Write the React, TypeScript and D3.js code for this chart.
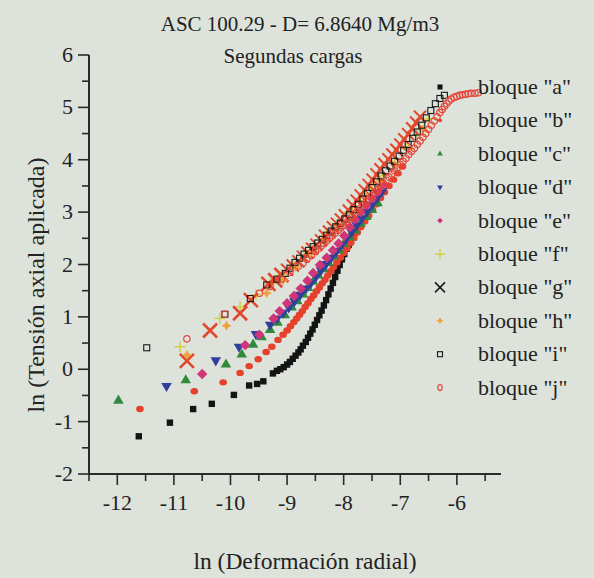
import React from "react";
import * as d3 from "d3";

const title1 = "ASC 100.29 - D= 6.8640 Mg/m3";
const title2 = "Segundas cargas";
const xLabel = "ln (Deformación radial)";
const yLabel = "ln (Tensión axial aplicada)";
const xTicks = [-12, -11, -10, -9, -8, -7, -6];
const yTicks = [-2, -1, 0, 1, 2, 3, 4, 5, 6];
const legendNames = ['bloque "a"', 'bloque "b"', 'bloque "c"', 'bloque "d"', 'bloque "e"', 'bloque "f"', 'bloque "g"', 'bloque "h"', 'bloque "i"', 'bloque "j"'];

const serieA: [number, number][] = [[-11.62,-1.28],[-11.07,-1.02],[-10.66,-0.76],[-10.33,-0.66],[-9.94,-0.49],[-9.67,-0.31],[-9.53,-0.28],[-9.42,-0.23],[-9.25,-0.08],[-9.18,-0.03],[-9.12,0.0],[-9.06,0.04],[-9.0,0.09],[-8.95,0.14],[-8.9,0.2],[-8.85,0.26],[-8.8,0.32],[-8.76,0.38],[-8.72,0.45],[-8.67,0.52],[-8.63,0.6],[-8.59,0.68],[-8.55,0.76],[-8.51,0.85],[-8.47,0.94],[-8.43,1.03],[-8.39,1.12],[-8.35,1.22],[-8.31,1.32],[-8.27,1.43],[-8.23,1.54],[-8.19,1.65],[-8.15,1.76],[-8.11,1.88],[-8.07,1.99],[-8.03,2.1],[-7.99,2.2],[-7.95,2.3],[-7.91,2.38],[-7.87,2.45],[-7.82,2.52]];
const serieB: [number, number][] = [[-11.6,-0.76],[-10.64,-0.42],[-10.13,-0.25],[-9.83,-0.07],[-9.67,0.06],[-9.51,0.19],[-9.37,0.33],[-9.27,0.43],[-9.16,0.56],[-9.07,0.66],[-9.0,0.74],[-8.94,0.82],[-8.88,0.9],[-8.83,0.97],[-8.78,1.04],[-8.73,1.11],[-8.68,1.19],[-8.63,1.26],[-8.58,1.34],[-8.53,1.41],[-8.48,1.49],[-8.43,1.56],[-8.38,1.64],[-8.33,1.71],[-8.28,1.79],[-8.23,1.87],[-8.18,1.95],[-8.12,2.04],[-8.06,2.13],[-8.0,2.22],[-7.94,2.31],[-7.88,2.41],[-7.82,2.51],[-7.76,2.61],[-7.7,2.71],[-7.63,2.82],[-7.56,2.93],[-7.49,3.04],[-7.42,3.15],[-7.35,3.27],[-7.28,3.38],[-7.2,3.5],[-7.12,3.62],[-7.04,3.74],[-6.96,3.87]];
const serieC: [number, number][] = [[-11.98,-0.6],[-10.79,-0.21],[-10.08,0.09],[-9.8,0.28],[-9.6,0.47],[-9.45,0.61],[-9.3,0.75],[-9.17,0.89],[-9.04,1.03],[-8.92,1.18],[-8.82,1.3],[-8.72,1.43],[-8.63,1.55],[-8.54,1.67],[-8.45,1.79],[-8.36,1.91],[-8.27,2.03],[-8.18,2.15],[-8.09,2.27],[-8.0,2.39],[-7.9,2.52],[-7.8,2.65],[-7.7,2.78],[-7.6,2.91],[-7.5,3.04],[-7.4,3.17]];
const serieD: [number, number][] = [[-11.13,-0.32],[-10.26,0.17],[-9.85,0.43],[-9.55,0.67],[-9.3,0.85],[-9.18,0.97],[-9.07,1.08],[-8.97,1.18],[-8.87,1.3],[-8.77,1.42],[-8.67,1.54],[-8.58,1.65],[-8.49,1.77],[-8.4,1.89],[-8.31,2.01],[-8.22,2.13],[-8.13,2.25],[-8.04,2.37],[-7.95,2.5],[-7.86,2.62],[-7.77,2.75],[-7.68,2.88],[-7.59,3.01],[-7.5,3.14],[-7.41,3.27],[-7.32,3.4]];
const serieE: [number, number][] = [[-10.5,-0.09],[-9.74,0.46],[-9.49,0.66],[-9.24,0.97],[-9.13,1.11],[-9.0,1.26],[-8.88,1.4],[-8.76,1.54],[-8.64,1.69],[-8.54,1.84],[-8.42,1.99],[-8.3,2.13],[-8.19,2.27],[-8.09,2.4],[-7.99,2.55],[-7.89,2.71],[-7.8,2.86],[-7.7,3.0],[-7.6,3.13],[-7.5,3.26],[-7.4,3.39],[-7.3,3.52]];
const serieF: [number, number][] = [[-10.89,0.43],[-10.19,0.97],[-9.83,1.19],[-9.55,1.42],[-9.3,1.63],[-9.1,1.8],[-8.9,1.98],[-8.7,2.17],[-8.5,2.36],[-8.3,2.56],[-8.1,2.77],[-7.9,2.99],[-7.7,3.22],[-7.5,3.45],[-7.3,3.7],[-7.1,3.95],[-6.9,4.21],[-6.7,4.48],[-6.5,4.78]];
const serieG: [number, number][] = [[-10.77,0.16],[-10.36,0.74],[-9.83,1.07],[-9.64,1.32],[-9.33,1.63],[-9.21,1.7],[-9.1,1.8],[-9.0,1.9],[-8.9,1.98],[-8.8,2.06],[-8.72,2.15],[-8.64,2.23],[-8.56,2.3],[-8.48,2.38],[-8.4,2.46],[-8.33,2.55],[-8.26,2.63],[-8.19,2.71],[-8.12,2.78],[-8.05,2.86],[-7.98,2.94],[-7.91,3.03],[-7.84,3.13],[-7.77,3.22],[-7.7,3.32],[-7.63,3.42],[-7.56,3.52],[-7.49,3.62],[-7.42,3.72],[-7.35,3.82],[-7.28,3.92],[-7.21,4.01],[-7.14,4.1],[-7.07,4.19],[-7.0,4.29],[-6.93,4.39],[-6.86,4.49],[-6.79,4.6],[-6.72,4.71],[-6.65,4.82]];
const serieH: [number, number][] = [[-10.77,0.27],[-10.07,0.83],[-9.36,1.45],[-9.07,1.7],[-8.85,1.95],[-8.6,2.2],[-8.35,2.45],[-8.1,2.72],[-7.85,3.0],[-7.6,3.3],[-7.35,3.6],[-7.1,3.9],[-6.85,4.22],[-6.6,4.58]];
const serieI: [number, number][] = [[-11.48,0.41],[-10.1,1.05],[-9.65,1.35],[-9.36,1.61],[-9.18,1.72],[-9.03,1.83],[-8.95,1.93],[-8.86,2.04],[-8.78,2.12],[-8.7,2.2],[-8.62,2.27],[-8.54,2.34],[-8.46,2.41],[-8.38,2.48],[-8.3,2.56],[-8.22,2.64],[-8.14,2.72],[-8.06,2.79],[-7.98,2.87],[-7.9,2.95],[-7.82,3.05],[-7.74,3.15],[-7.66,3.25],[-7.58,3.36],[-7.5,3.47],[-7.42,3.58],[-7.34,3.69],[-7.26,3.79],[-7.18,3.88],[-7.1,3.97],[-7.02,4.07],[-6.94,4.18],[-6.86,4.29],[-6.78,4.41],[-6.7,4.53],[-6.62,4.66],[-6.54,4.8],[-6.46,4.94],[-6.38,5.07],[-6.3,5.17],[-6.22,5.23]];
const serieJ: [number, number][] = [[-10.77,0.58],[-10.1,1.05],[-9.49,1.45],[-9.3,1.58],[-9.1,1.72],[-8.95,1.85],[-8.8,1.97],[-8.72,2.03],[-8.65,2.1],[-8.57,2.17],[-8.5,2.25],[-8.45,2.3],[-8.4,2.35],[-8.35,2.4],[-8.3,2.45],[-8.25,2.5],[-8.2,2.55],[-8.15,2.6],[-8.1,2.65],[-8.05,2.7],[-8.0,2.75],[-7.95,2.8],[-7.9,2.86],[-7.85,2.91],[-7.8,2.97],[-7.75,3.02],[-7.7,3.08],[-7.65,3.14],[-7.6,3.2],[-7.55,3.25],[-7.5,3.31],[-7.45,3.37],[-7.4,3.43],[-7.35,3.49],[-7.3,3.55],[-7.25,3.61],[-7.2,3.67],[-7.15,3.73],[-7.1,3.79],[-7.05,3.85],[-7.0,3.91],[-6.95,3.97],[-6.9,4.03],[-6.85,4.1],[-6.8,4.16],[-6.75,4.22],[-6.7,4.29],[-6.65,4.36],[-6.6,4.43],[-6.55,4.5],[-6.5,4.58],[-6.45,4.66],[-6.4,4.74],[-6.35,4.82],[-6.3,4.9],[-6.26,4.96],[-6.22,5.02],[-6.18,5.07],[-6.14,5.12],[-6.1,5.16],[-6.05,5.19],[-6.0,5.21],[-5.95,5.23],[-5.9,5.24],[-5.85,5.25],[-5.8,5.26],[-5.75,5.27],[-5.68,5.27],[-5.62,5.28]];

const BG = "#dde3da";
const INK = "#2a2a2a";
const FONT = "'Liberation Serif', 'Times New Roman', serif";

const x = d3.scaleLinear().domain([-12.5, -5.22]).range([89, 501]);
const y = d3.scaleLinear().domain([-2, 6]).range([474, 55]);

type Kind = "a" | "b" | "c" | "d" | "e" | "f" | "g" | "h" | "i" | "j";

function Marker({ kind, cx, cy, legend, dense }: { kind: Kind; cx: number; cy: number; legend?: boolean; dense?: boolean }) {
  const s = legend ? 0.55 : 1;
  const tri = d3.symbol().type(d3.symbolTriangle).size(48 * s * s)() as string;
  switch (kind) {
    case "a": {
      const h = 3.2 * (legend ? 0.8 : 1);
      return <rect x={cx - h} y={cy - h} width={2 * h} height={2 * h} fill="#141414" />;
    }
    case "b":
      return <ellipse cx={cx} cy={cy} rx={3.8 * s} ry={3.2 * s} fill="#e5412c" />;
    case "c":
      return <path d={tri} transform={`translate(${cx},${cy})`} fill="#2f8a3c" />;
    case "d":
      return <path d={tri} transform={`translate(${cx},${cy}) rotate(180)`} fill="#2f3f9c" />;
    case "e": {
      const h = 5.2 * s;
      return <path d={`M${cx},${cy - h}L${cx + h},${cy}L${cx},${cy + h}L${cx - h},${cy}Z`} fill="#d0357a" />;
    }
    case "f": {
      const h = 5.5 * (legend ? 0.9 : 1);
      return (
        <g stroke="#cfcf3a" strokeWidth={1.4}>
          <line x1={cx - h} y1={cy} x2={cx + h} y2={cy} />
          <line x1={cx} y1={cy - h} x2={cx} y2={cy + h} />
        </g>
      );
    }
    case "g": {
      const h = legend ? 5 : dense ? 6 : 7;
      return (
        <g stroke={legend ? "#1a1a1a" : "#e2472c"} strokeWidth={legend ? 1.6 : dense ? 2 : 2.6}>
          <line x1={cx - h} y1={cy - h} x2={cx + h} y2={cy + h} />
          <line x1={cx - h} y1={cy + h} x2={cx + h} y2={cy - h} />
        </g>
      );
    }
    case "h": {
      const h = legend ? 3.5 : 5;
      const k = h * 0.35;
      return (
        <path
          d={`M${cx},${cy - h}L${cx + k},${cy - k}L${cx + h},${cy}L${cx + k},${cy + k}L${cx},${cy + h}L${cx - k},${cy + k}L${cx - h},${cy}L${cx - k},${cy - k}Z`}
          fill="#f0a03a"
        />
      );
    }
    case "i": {
      const h = legend ? 2.5 : 3;
      return <rect x={cx - h} y={cy - h} width={2 * h} height={2 * h} fill="none" stroke="#1a1a1a" strokeWidth={1.1} />;
    }
    case "j":
      return <ellipse cx={cx} cy={cy} rx={legend ? 2.2 : 3.2} ry={legend ? 3 : 3.2} fill="none" stroke="#e4463a" strokeWidth={1.2} />;
  }
}

const seriesList: { kind: Kind; data: [number, number][] }[] = [
  { kind: "a", data: serieA },
  { kind: "b", data: serieB },
  { kind: "c", data: serieC },
  { kind: "d", data: serieD },
  { kind: "e", data: serieE },
  { kind: "f", data: serieF },
  { kind: "g", data: serieG },
  { kind: "h", data: serieH },
  { kind: "i", data: serieI },
  { kind: "j", data: serieJ },
];

export default function App() {
  const W = 594, H = 578;
  const xMinor = d3.range(-12.5, -5.2, 0.5);
  const yMinor = d3.range(-2, 6.01, 0.5);
  const legendKinds: Kind[] = ["a", "b", "c", "d", "e", "f", "g", "h", "i", "j"];
  return (
    <svg width={W} height={H} style={{ position: "absolute", left: 0, top: 0, background: BG }} fontFamily={FONT}>
      <rect x={0} y={0} width={W} height={H} fill={BG} />
      <text x={300} y={31} textAnchor="middle" fontSize={21} fill="#222">{title1}</text>
      <text x={293} y={63} textAnchor="middle" fontSize={21} fill="#222">{title2}</text>

      {/* axes */}
      <line x1={x(-12.5)} y1={y(-2)} x2={x(-5.22)} y2={y(-2)} stroke={INK} strokeWidth={2} />
      <line x1={x(-12.5)} y1={y(-2)} x2={x(-12.5)} y2={y(6)} stroke={INK} strokeWidth={2} />
      {xMinor.map((v) => {
        const major = Math.abs(v - Math.round(v)) < 1e-6;
        return <line key={"xm" + v} x1={x(v)} x2={x(v)} y1={y(-2)} y2={y(-2) + (major ? 11 : 7)} stroke={INK} strokeWidth={1.6} />;
      })}
      {yMinor.map((v) => {
        const major = Math.abs(v - Math.round(v)) < 1e-6;
        return <line key={"ym" + v} x1={x(-12.5)} x2={x(-12.5) - (major ? 11 : 7)} y1={y(v)} y2={y(v)} stroke={INK} strokeWidth={1.6} />;
      })}
      {xTicks.map((v) => (
        <text key={"xt" + v} x={x(v)} y={y(-2) + 36} textAnchor="middle" fontSize={22} fill="#222">{v}</text>
      ))}
      {yTicks.map((v) => (
        <text key={"yt" + v} x={x(-12.5) - 16} y={y(v) + 7} textAnchor="end" fontSize={22} fill="#222">{v}</text>
      ))}
      <text x={305} y={569} textAnchor="middle" fontSize={23.5} fill="#222">{xLabel}</text>
      <text transform={`translate(44,${285}) rotate(-90)`} textAnchor="middle" fontSize={24} fill="#222">{yLabel}</text>

      {/* data */}
      {seriesList.map((s) => (
        <g key={s.kind}>
          {s.data.map((p, i) => (
            <Marker key={i} kind={s.kind} cx={x(p[0])} cy={y(p[1])} dense={s.kind === "g" && p[0] > -9.1} />
          ))}
        </g>
      ))}

      {/* legend */}
      {legendKinds.map((k, i) => {
        const ly = 87 + i * 33.4;
        return (
          <g key={"lg" + k}>
            <Marker kind={k} cx={440} cy={ly} legend />
            <text x={478} y={ly + 7} fontSize={22} fill="#222">{legendNames[i]}</text>
          </g>
        );
      })}
    </svg>
  );
}
